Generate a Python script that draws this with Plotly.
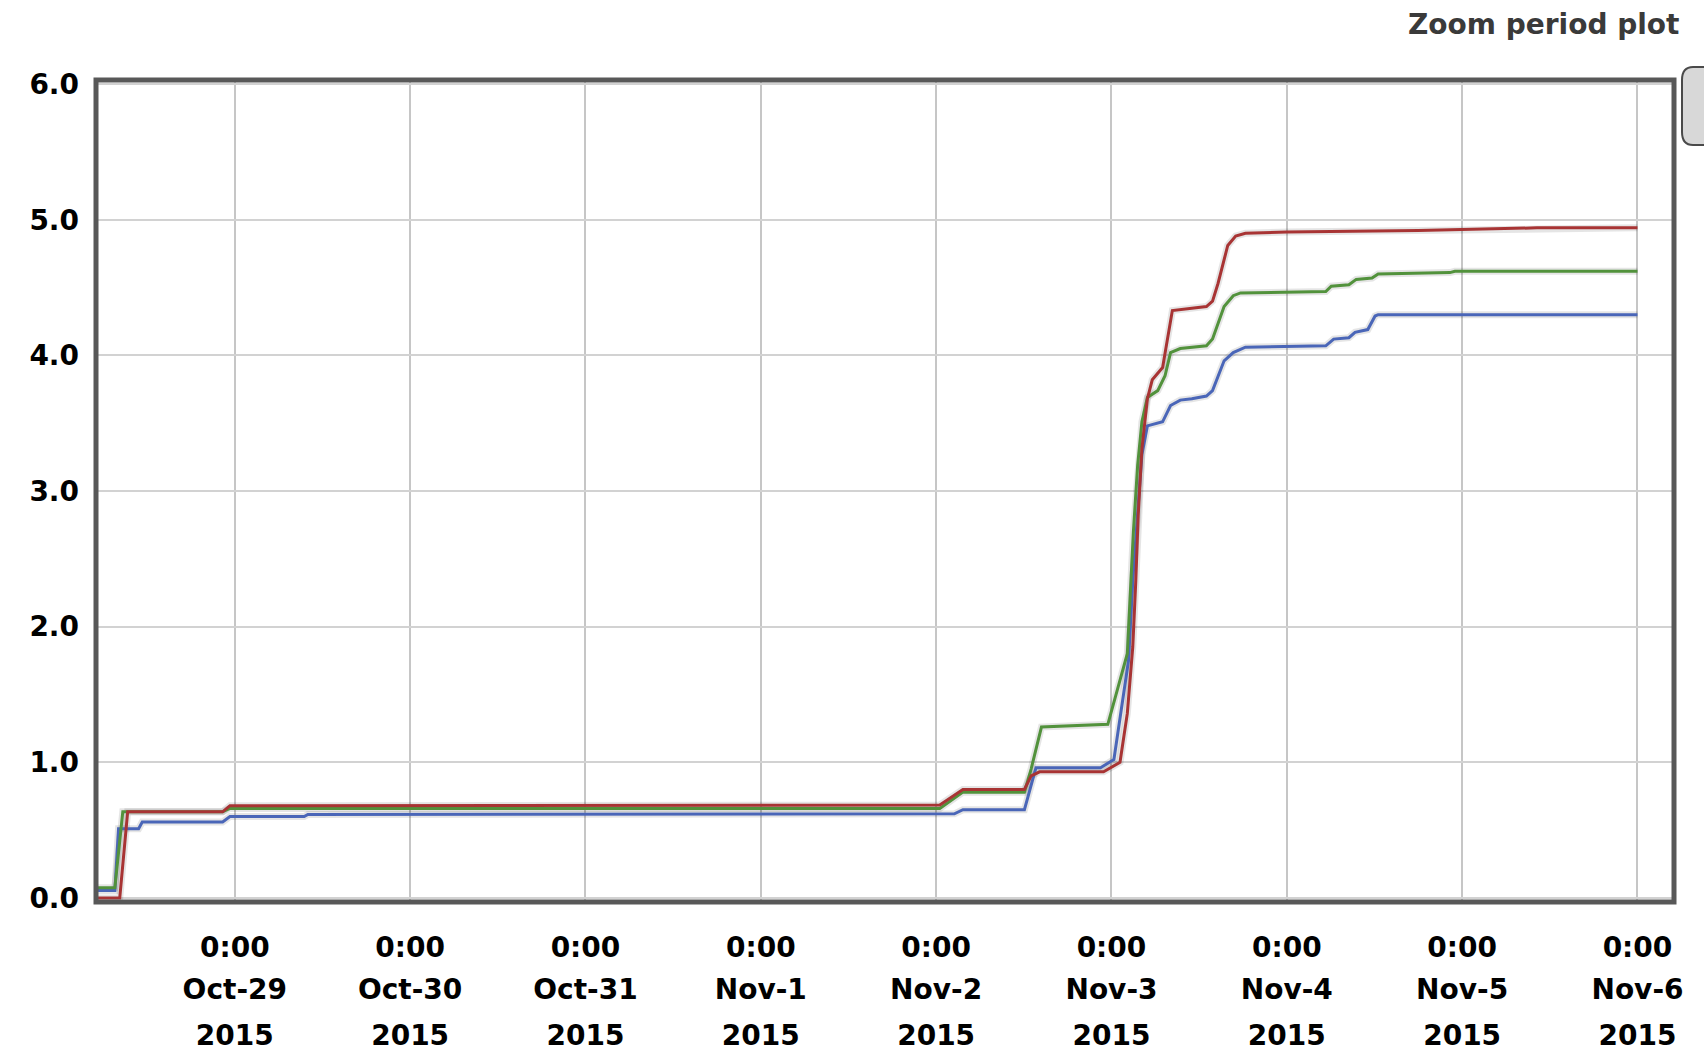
import plotly.graph_objects as go

# ---- tick labels -----------------------------------------------------------
tick_dates = ["2015-10-29", "2015-10-30", "2015-10-31", "2015-11-01", "2015-11-02",
              "2015-11-03", "2015-11-04", "2015-11-05", "2015-11-06"]
tick_hours = ["0:00"] * len(tick_dates)
tick_days = ["Oct-29", "Oct-30", "Oct-31", "Nov-1", "Nov-2",
             "Nov-3", "Nov-4", "Nov-5", "Nov-6"]
tick_years = ["2015"] * len(tick_dates)
y_ticks = [0, 1, 2, 3, 4, 5, 6]
y_labels = ["0.0", "1.0", "2.0", "3.0", "4.0", "5.0", "6.0"]

x_range = ["2015-10-28 05:00", "2015-11-06 05:00"]

# ---- series ----------------------------------------------------------------
red_t = ["2015-10-28 05:00", "2015-10-28 08:15", "2015-10-28 09:20", "2015-10-28 22:20",
         "2015-10-28 23:20", "2015-10-29 09:30", "2015-10-29 10:00", "2015-11-02 00:30",
         "2015-11-02 03:40", "2015-11-02 12:05", "2015-11-02 13:00", "2015-11-02 14:10",
         "2015-11-02 22:55", "2015-11-03 01:10", "2015-11-03 02:10", "2015-11-03 02:55",
         "2015-11-03 03:20", "2015-11-03 03:40", "2015-11-03 04:10", "2015-11-03 04:55",
         "2015-11-03 05:35", "2015-11-03 07:00", "2015-11-03 08:20", "2015-11-03 13:00",
         "2015-11-03 13:50", "2015-11-03 14:35", "2015-11-03 15:55", "2015-11-03 17:00",
         "2015-11-03 18:20", "2015-11-04 00:00", "2015-11-04 18:00", "2015-11-05 10:15",
         "2015-11-06 00:00"]
red_v = [0.0, 0.0, 0.635, 0.635,
         0.68, 0.68, 0.685, 0.685,
         0.80, 0.80, 0.90, 0.93,
         0.93, 1.00, 1.36, 1.85,
         2.34, 2.83, 3.31, 3.68,
         3.82, 3.91, 4.33, 4.36,
         4.40, 4.53, 4.81, 4.88,
         4.90, 4.91, 4.92, 4.94,
         4.94]

green_t = ["2015-10-28 05:00", "2015-10-28 07:35", "2015-10-28 08:40", "2015-10-28 22:20",
           "2015-10-28 23:20", "2015-11-02 00:30", "2015-11-02 03:40", "2015-11-02 12:05",
           "2015-11-02 13:00", "2015-11-02 14:25", "2015-11-02 23:30", "2015-11-03 01:30",
           "2015-11-03 02:10", "2015-11-03 03:00", "2015-11-03 03:35", "2015-11-03 04:10",
           "2015-11-03 04:55", "2015-11-03 06:20", "2015-11-03 07:20", "2015-11-03 08:05",
           "2015-11-03 09:25", "2015-11-03 13:00", "2015-11-03 13:50", "2015-11-03 15:25",
           "2015-11-03 16:40", "2015-11-03 17:40", "2015-11-04 05:20", "2015-11-04 06:05",
           "2015-11-04 08:30", "2015-11-04 09:30", "2015-11-04 11:40", "2015-11-04 12:30",
           "2015-11-04 22:20", "2015-11-04 23:00", "2015-11-06 00:00"]
green_v = [0.075, 0.075, 0.635, 0.635,
           0.66, 0.66, 0.78, 0.78,
           0.95, 1.26, 1.28, 1.66,
           1.80, 2.70, 3.19, 3.51,
           3.69, 3.74, 3.85, 4.02,
           4.05, 4.07, 4.12, 4.36,
           4.44, 4.46, 4.47, 4.51,
           4.52, 4.56, 4.57, 4.60,
           4.61, 4.62, 4.62]

blue_t = ["2015-10-28 05:00", "2015-10-28 07:35", "2015-10-28 08:05", "2015-10-28 10:50",
          "2015-10-28 11:20", "2015-10-28 22:20", "2015-10-28 23:20", "2015-10-29 09:30",
          "2015-10-29 10:00", "2015-11-02 02:30", "2015-11-02 03:40", "2015-11-02 12:05",
          "2015-11-02 13:40", "2015-11-02 22:30", "2015-11-03 00:20", "2015-11-03 01:35",
          "2015-11-03 02:20", "2015-11-03 02:55", "2015-11-03 03:35", "2015-11-03 04:10",
          "2015-11-03 04:55", "2015-11-03 07:00", "2015-11-03 08:05", "2015-11-03 09:25",
          "2015-11-03 11:00", "2015-11-03 13:00", "2015-11-03 13:50", "2015-11-03 15:25",
          "2015-11-03 16:40", "2015-11-03 18:20", "2015-11-04 05:20", "2015-11-04 06:25",
          "2015-11-04 08:30", "2015-11-04 09:20", "2015-11-04 11:05", "2015-11-04 12:05",
          "2015-11-04 12:30", "2015-11-06 00:00"]
blue_v = [0.055, 0.055, 0.51, 0.51,
          0.56, 0.56, 0.60, 0.60,
          0.615, 0.62, 0.65, 0.65,
          0.96, 0.96, 1.02, 1.46,
          1.75, 2.34, 2.83, 3.27,
          3.48, 3.51, 3.63, 3.67,
          3.68, 3.70, 3.74, 3.96,
          4.02, 4.06, 4.07, 4.12,
          4.13, 4.17, 4.19, 4.29,
          4.30, 4.30]

series = [
    (blue_t, blue_v, "#4a66b8"),
    (green_t, green_v, "#52923c"),
    (red_t, red_v, "#a83434"),
]

W, H = 1704, 1060
L, R, T, B = 96, 30, 80, 158
FONT = "DejaVu Sans"

fig = go.Figure()

# soft drop shadow under each line
for t, v, c in series:
    fig.add_trace(go.Scatter(x=t, y=v, mode="lines", hoverinfo="skip", showlegend=False,
                             line=dict(color="rgba(0,0,0,0.10)", width=7)))
for t, v, c in series:
    fig.add_trace(go.Scatter(x=t, y=v, mode="lines", showlegend=False,
                             line=dict(color=c, width=3)))

# empty traces so that the stacked label axes get drawn
for ax in ("x2", "x3"):
    fig.add_trace(go.Scatter(x=[], y=[], xaxis=ax, yaxis="y", showlegend=False,
                             hoverinfo="skip"))

tick_font = dict(family=FONT, size=28, color="#000000", weight="bold")

xbase = dict(type="date", range=x_range, tickvals=tick_dates, tickangle=0,
             ticks="", showline=False, zeroline=False, tickfont=tick_font,
             fixedrange=True, automargin=False)

fig.update_layout(
    width=W, height=H,
    margin=dict(l=L, r=R, t=T, b=B, pad=0, autoexpand=False),
    paper_bgcolor="white", plot_bgcolor="white",
    xaxis=dict(xbase, ticktext=tick_hours, showgrid=True, gridcolor="#c6c6c6",
               gridwidth=2, ticklabelstandoff=26),
    xaxis2=dict(xbase, ticktext=tick_days, overlaying="x", anchor="y", side="bottom",
                showgrid=False, ticklabelstandoff=68),
    xaxis3=dict(xbase, ticktext=tick_years, overlaying="x", anchor="y", side="bottom",
                showgrid=False, ticklabelstandoff=114),
    yaxis=dict(range=[-0.03, 6.03], tickvals=y_ticks, ticktext=y_labels, showgrid=True,
               gridcolor="#d2d2d2", gridwidth=2, zeroline=False, showline=False,
               ticks="", tickfont=tick_font, ticklabelstandoff=16, fixedrange=True,
               automargin=False),
    annotations=[dict(text="Zoom period plot", xref="paper", yref="paper",
                      x=(1681 - L) / (W - L - R), y=(902 - 25) / (902 - T),
                      xanchor="right", yanchor="middle", showarrow=False,
                      font=dict(family=FONT, size=28, color="#3a3a3a", weight="bold"))],
)

pw, ph = W - L - R, 902 - T


def px(xp):
    return (xp - L) / pw


def py(yp):
    return (902 - yp) / ph


shapes = [
    # plot frame
    dict(type="rect", xref="paper", yref="paper", x0=0, x1=1, y0=0, y1=1,
         line=dict(color="#585858", width=5), layer="above"),
    # partly hidden button at the right edge
    dict(type="path", xref="paper", yref="paper",
         path=(f"M {px(1720)},{py(67)} L {px(1693)},{py(67)} "
               f"Q {px(1682)},{py(67)} {px(1682)},{py(80)} "
               f"L {px(1682)},{py(132)} Q {px(1682)},{py(145)} {px(1693)},{py(145)} "
               f"L {px(1720)},{py(145)} Z"),
         fillcolor="#d8d8d8", line=dict(color="#4a4a4a", width=2), layer="above"),
]
fig.update_layout(shapes=shapes)

fig.write_html("out.html")
